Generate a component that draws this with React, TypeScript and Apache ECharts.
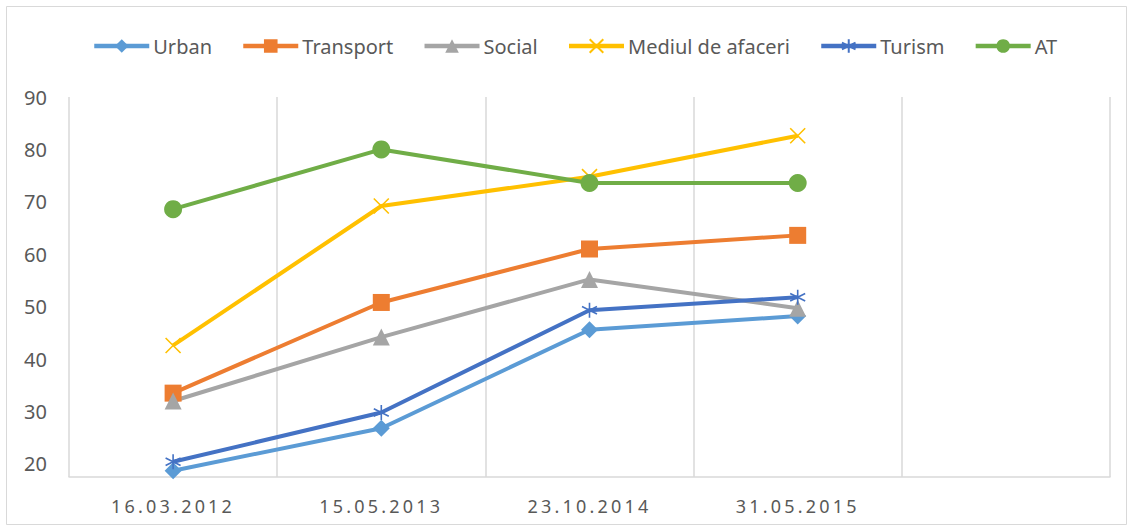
import React, { useEffect, useRef } from "react";
import * as echarts from "echarts";

const categories = ["16.03.2012", "15.05.2013", "23.10.2014", "31.05.2015", ""];
const urban = [18.7, 26.8, 45.6, 48.2];
const transport = [33.5, 50.8, 61.0, 63.6];
const social = [32.0, 44.2, 55.2, 49.7];
const mediul = [42.6, 69.2, 74.8, 82.6];
const turism = [20.4, 29.8, 49.3, 51.8];
const at = [68.6, 80.0, 73.6, 73.6];
const yLabels = [20, 30, 40, 50, 60, 70, 80, 90];

const X_PATH = "path://M0,0 L10,10 M10,0 L0,10";
const STAR_PATH = "path://M5,0 L5,10 M0.7,2.5 L9.3,7.5 M9.3,2.5 L0.7,7.5";

export default function App() {
  const ref = useRef<HTMLDivElement>(null);
  useEffect(() => {
    if (!ref.current) return;
    const chart = echarts.init(ref.current, null, { renderer: "svg" });
    const font = "Noto Sans";
    const mk = (name: string, data: number[], color: string, symbol: string, size: number, stroked = false) => ({
      name,
      type: "line",
      data,
      symbol,
      symbolSize: size,
      showSymbol: true,
      lineStyle: { color, width: 4 },
      itemStyle: stroked
        ? { color: "none", borderColor: color, borderWidth: 1.6 }
        : { color, borderWidth: 0 },
      emphasis: { disabled: true },
      z: 3,
    });
    chart.setOption({
      animation: false,
      backgroundColor: "#ffffff",
      textStyle: { fontFamily: font },
      graphic: [
        {
          type: "rect",
          shape: { x: 6.5, y: 6.5, width: 1120, height: 518 },
          style: { fill: "none", stroke: "#D9D9D9", lineWidth: 1 },
          silent: true,
        },
      ],
      legend: {
        top: 31,
        left: 87,
        itemWidth: 55,
        itemHeight: 17,
        itemGap: 29,
        lineStyle: { width: 4.5 },
        textStyle: { color: "#595959", fontSize: 20, fontFamily: font, padding: [0, 0, 0, -1] },
        data: ["Urban", "Transport", "Social", "Mediul de afaceri", "Turism", "AT"],
      },
      grid: { left: 69, right: 23, top: 97, bottom: 54, containLabel: false },
      xAxis: {
        type: "category",
        data: categories,
        boundaryGap: true,
        axisLine: { show: true, lineStyle: { color: "#D9D9D9", width: 1.5 } },
        axisTick: { show: false },
        axisLabel: { color: "#595958", fontSize: 18, margin: 20, fontFamily: font },
        splitLine: { show: true, lineStyle: { color: "#D9D9D9", width: 1.5 } },
      },
      yAxis: {
        type: "value",
        min: 17.5,
        max: 90,
        interval: 2.5,
        axisLine: { show: false },
        axisTick: { show: false },
        splitLine: { show: false },
        axisLabel: {
          color: "#595959",
          fontSize: 20,
          margin: 22,
          fontFamily: font,
          formatter: (v: number) => (yLabels.includes(v) ? String(v) : ""),
        },
      },
      series: [
        mk("Urban", urban, "#5B9BD5", "diamond", 17),
        mk("Transport", transport, "#ED7D31", "rect", 17),
        mk("Social", social, "#A5A5A5", "triangle", 17),
        mk("Mediul de afaceri", mediul, "#FFC000", X_PATH, 15, true),
        mk("Turism", turism, "#4472C4", STAR_PATH, 15, true),
        mk("AT", at, "#70AD47", "circle", 18),
      ],
    });
    return () => chart.dispose();
  }, []);
  return (
    <>
      <style>{`body{margin:0} text[fill="#595958"]{letter-spacing:3.2px}`}</style>
      <div ref={ref} style={{ position: "absolute", left: 0, top: 0, width: 1133, height: 531 }} />
    </>
  );
}
